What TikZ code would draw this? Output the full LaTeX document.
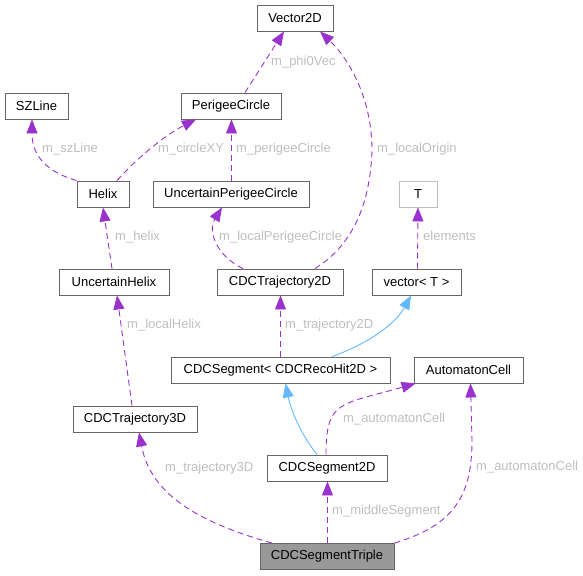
\documentclass[tikz,border=0pt]{standalone}
\usepackage{fontspec}
\setmainfont{Liberation Sans}
\usepackage{xcolor}
\usepackage{tikz}
\usetikzlibrary{arrows.meta}

\definecolor{edgepurple}{HTML}{9A32CD}
\definecolor{edgeblue}{HTML}{63B8FF}
\definecolor{boxgray}{HTML}{666666}
\definecolor{paramgray}{HTML}{BFBFBF}
\definecolor{lblgray}{HTML}{BEBEBE}
\definecolor{focusgray}{HTML}{999999}

\tikzset{
  cls/.style={draw=boxgray, fill=white, line width=0.9pt, minimum height=26pt,
    inner sep=0pt, font=\fontsize{13}{15}\selectfont},
  mem/.style={edgepurple, line width=0.9pt, dash pattern=on 6pt off 4pt,
    -{Triangle[length=14pt,width=11pt]}},
  inh/.style={edgeblue, line width=0.9pt,
    -{Triangle[length=14pt,width=11pt]}},
  lbl/.style={text=lblgray, anchor=west, inner sep=0pt, text height=9.5pt,
    text depth=2.5pt, font=\fontsize{13}{15}\selectfont}
}

\begin{document}
\begin{tikzpicture}[x=1pt,y=-1pt]
\useasboundingbox (0,0) rectangle (583,575);

  \node[cls, minimum width=76pt]                 (vec2d)    at (295,18)    {Vector2D};
  \node[cls, minimum width=63pt]                 (szline)   at (36.5,106)  {SZLine};
  \node[cls, minimum width=100pt]                (perigee)  at (231,106)   {PerigeeCircle};
  \node[cls, minimum width=52pt]                 (helix)    at (103,194)   {Helix};
  \node[cls, minimum width=156pt]                (uperigee) at (231,194)   {UncertainPerigeeCircle};
  \node[cls, minimum width=38pt, draw=paramgray] (tparam)   at (418,194)   {T};
  \node[cls, minimum width=110pt]                (uhelix)   at (114,282)   {UncertainHelix};
  \node[cls, minimum width=126pt]                (traj2d)   at (280,282)   {CDCTrajectory2D};
  \node[cls, minimum width=89pt]                 (vecT)     at (416.5,282) {vector< T >};
  \node[cls, minimum width=219pt]                (segtpl)   at (280.5,370) {CDCSegment< CDCRecoHit2D >};
  \node[cls, minimum width=109pt]                (autocell) at (468.5,370) {AutomatonCell};
  \node[cls, minimum width=124pt]                (traj3d)   at (135,419)   {CDCTrajectory3D};
  \node[cls, minimum width=120pt]                (seg2d)    at (327,468)   {CDCSegment2D};
  \node[cls, minimum width=134pt, fill=focusgray] (triple)  at (327,556.5) {CDCSegmentTriple};

  \draw[mem] ([xshift=14pt]perigee.north) -- ([xshift=-11pt]vec2d.south);
  \draw[mem] ([xshift=0.5pt]uperigee.north) -- ([xshift=0.5pt]perigee.south);
  \draw[mem] ([xshift=-2pt]uhelix.north) -- (helix.south);
  \draw[mem] ([xshift=1pt]vecT.north) -- (tparam.south);
  \draw[mem] (segtpl.north) -- ([xshift=0.5pt]traj2d.south);
  \draw[mem] ([xshift=-3pt]traj3d.north) -- ([xshift=3pt]uhelix.south);
  \draw[mem] ([xshift=0.5pt]triple.north) -- ([xshift=0.5pt]seg2d.south);

  \draw[mem] ([xshift=35pt]traj2d.north) .. controls (345,250) and (370,215) .. (372,150)
    .. controls (372,100) and (350,60) .. ([xshift=25pt]vec2d.south);
  \draw[mem] (helix.north west) .. controls (40,170) and (32,150) .. ([xshift=-4.5pt]szline.south);
  \draw[mem] ([xshift=14pt]helix.north) .. controls (135,160) and (165,135) .. ([xshift=-35pt]perigee.south);
  \draw[mem] ([xshift=-37pt]traj2d.north) .. controls (215,255) and (208,230) .. ([xshift=-9pt]uperigee.south);
  \draw[mem] ([xshift=-1pt]seg2d.north) .. controls (326,400) and (340,405) .. ([xshift=2pt]autocell.south west);
  \draw[mem] ([xshift=-55pt]triple.north) .. controls (190,520) and (150,490) .. ([xshift=4pt]traj3d.south);
  \draw[mem] (triple.north east) .. controls (455,525) and (472,495) .. (472,440)
    -- ([xshift=2pt]autocell.south);

  \draw[inh] ([xshift=51.5pt]segtpl.north) .. controls (365,345) and (395,325) .. ([xshift=-5.5pt]vecT.south);
  \draw[inh] ([xshift=-10pt]seg2d.north) .. controls (305,440) and (292,415) .. ([xshift=5pt]segtpl.south);

  \node[lbl] (lphi)    at (271,62)  {m\_phi0Vec};
  \node[lbl] (lorigin) at (377,149) {m\_localOrigin};
  \node[lbl] (lsz)     at (42,149)  {m\_szLine};
  \node[lbl] (lcircle) at (158,149) {m\_circleXY};
  \node[lbl] (lperi)   at (236,149) {m\_perigeeCircle};
  \node[lbl] (lhelix)  at (115,237) {m\_helix};
  \node[lbl] (llperi)  at (219,237) {m\_localPerigeeCircle};
  \node[lbl] (lelem)   at (423,237) {elements};
  \node[lbl] (ltraj2)  at (285,325) {m\_trajectory2D};
  \node[lbl] (llhelix) at (127,325) {m\_localHelix};
  \node[lbl] (lcellA)  at (343,419) {m\_automatonCell};
  \node[lbl] (lcellB)  at (476,467) {m\_automatonCell};
  \node[lbl] (ltraj3)  at (165,468) {m\_trajectory3D};
  \node[lbl] (lmiddle) at (332,511) {m\_middleSegment};

\end{tikzpicture}
\end{document}
